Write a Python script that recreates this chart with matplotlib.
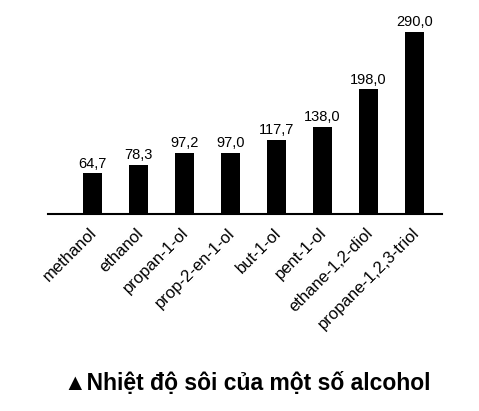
import matplotlib
matplotlib.use("Agg")
import matplotlib.pyplot as plt
import matplotlib.transforms as mtransforms

plt.rcParams['font.family'] = ['Liberation Sans', 'DejaVu Sans']

# Data
alcohols = ["methanol", "ethanol", "propan-1-ol", "prop-2-en-1-ol",
            "but-1-ol", "pent-1-ol", "ethane-1,2-diol", "propane-1,2,3-triol"]
boiling_points = [64.7, 78.3, 97.2, 97.0, 117.7, 138.0, 198.0, 290.0]
value_labels = ["64,7", "78,3", "97,2", "97,0", "117,7", "138,0", "198,0", "290,0"]
title = "\u25b2Nhiệt độ sôi của một số alcohol"

fig = plt.figure(figsize=(4.79, 4.11), dpi=100)
ax = fig.add_axes([48 / 479, (411 - 214) / 411, (442 - 48) / 479, 0.4593])

x = range(len(alcohols))
bars = ax.bar(x, boiling_points, width=0.41, color="black")

for b, lab in zip(bars, value_labels):
    ax.annotate(lab, (b.get_x() + b.get_width() / 2, b.get_height()),
                xytext=(0, 2), textcoords="offset points",
                ha="center", va="bottom", fontsize=10.5)

ax.set_xlim(-0.957, 7.6)
ax.set_ylim(0, 300)
ax.set_xticks(list(x))
ax.set_xticklabels(alcohols, rotation=45, ha="right", rotation_mode="anchor",
                   fontsize=12)
ax.tick_params(axis="x", length=0, pad=6)
# nudge the rotated labels down-left a bit
shift = mtransforms.ScaledTranslation(-3 / 100, -3 / 100, fig.dpi_scale_trans)
for t in ax.get_xticklabels():
    t.set_transform(t.get_transform() + shift)
ax.set_yticks([])
for s in ["top", "left", "right"]:
    ax.spines[s].set_visible(False)
ax.spines["bottom"].set_linewidth(1.5)

fig.text(247.5 / 479, 1 - 383 / 411, title, ha="center", va="center",
         fontsize=16.5, fontweight="bold")

fig.savefig("out.png", dpi=100)
